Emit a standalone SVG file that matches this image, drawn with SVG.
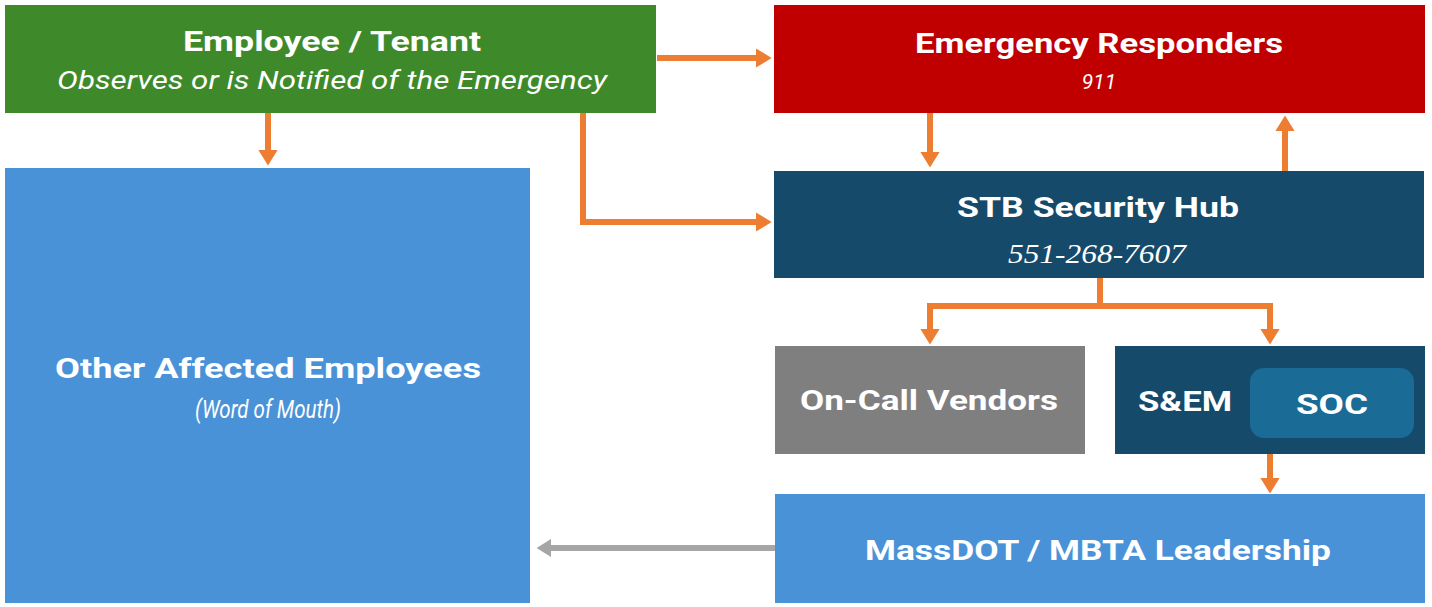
<svg xmlns="http://www.w3.org/2000/svg" width="1432" height="607" viewBox="0 0 1432 607">
<defs>
<marker id="ah" markerWidth="4" markerHeight="4" refX="1" refY="2" orient="auto" markerUnits="strokeWidth"><path d="M0,0.4 L2.6,2 L0,3.6 Z" fill="#ed7d31"/></marker>
<marker id="ahg" markerWidth="4" markerHeight="4" refX="1" refY="2" orient="auto" markerUnits="strokeWidth"><path d="M0,0.5 L2.4,2 L0,3.5 Z" fill="#a6a6a6"/></marker>
</defs>
<style>
.t{font-family:Roboto,"Liberation Sans",sans-serif;fill:#fff;text-anchor:middle}
.b{font-weight:bold;font-size:28px}
.i{font-style:italic;font-size:25px}
.c{fill:none;stroke:#ed7d31;stroke-width:6}
</style>
<rect width="1432" height="607" fill="#fff"/>
<g id="connectors">
<path class="c" d="M657,58 H762" marker-end="url(#ah)"/>
<path class="c" d="M268,113 V156" marker-end="url(#ah)"/>
<path class="c" d="M583,113 V222 H762" marker-end="url(#ah)"/>
<path class="c" d="M930,113 V158" marker-end="url(#ah)"/>
<path class="c" d="M1285,171 V125" marker-end="url(#ah)"/>
<path class="c" d="M1100,278 V306"/>
<path class="c" d="M1100,306 H930 V335" marker-end="url(#ah)"/>
<path class="c" d="M1100,306 H1270 V335" marker-end="url(#ah)"/>
<path class="c" d="M1270,454 V484" marker-end="url(#ah)"/>
<path d="M775,548 H545" fill="none" stroke="#a6a6a6" stroke-width="6" marker-end="url(#ahg)"/>
</g>
<g id="employee">
<rect x="5" y="5" width="651" height="108" fill="#3e8a2b"/>
<text class="t b" x="332" y="51" textLength="298" lengthAdjust="spacingAndGlyphs">Employee / Tenant</text>
<text class="t i" x="332" y="89" textLength="550" lengthAdjust="spacingAndGlyphs" fill="#e6f2dc">Observes or is Notified of the Emergency</text>
</g>
<g id="responders">
<rect x="774" y="5" width="651" height="108" fill="#c00000"/>
<text class="t b" x="1099" y="53" textLength="368" lengthAdjust="spacingAndGlyphs">Emergency Responders</text>
<text class="t i" x="1099" y="89" style="font-size:21px">911</text>
</g>
<g id="hub">
<rect x="774" y="171" width="650" height="107" fill="#154a6b"/>
<text class="t b" x="1098" y="217" textLength="282" lengthAdjust="spacingAndGlyphs">STB Security Hub</text>
<text x="1097" y="263" style="font-family:'Liberation Serif',serif;font-style:italic;font-size:28px;fill:#fff;text-anchor:middle" textLength="178" lengthAdjust="spacingAndGlyphs">551-268-7607</text>
</g>
<g id="others">
<rect x="5" y="168" width="525" height="435" fill="#4a92d8"/>
<text class="t b" x="268" y="378" textLength="426" lengthAdjust="spacingAndGlyphs">Other Affected Employees</text>
<text class="t i" x="268" y="418" textLength="146" lengthAdjust="spacingAndGlyphs" fill="#e2eefa">(Word of Mouth)</text>
</g>
<g id="vendors">
<rect x="775" y="346" width="310" height="108" fill="#7f7f7f"/>
<text class="t b" x="929" y="410" textLength="258" lengthAdjust="spacingAndGlyphs" fill="#f2f2f2">On-Call Vendors</text>
</g>
<g id="sem">
<rect x="1115" y="346" width="310" height="108" fill="#154a6b"/>
<rect x="1250" y="368" width="164" height="70" rx="14" fill="#1a6b96"/>
<text class="t b" x="1185" y="411" textLength="94" lengthAdjust="spacingAndGlyphs">S&amp;EM</text>
<text class="t b" x="1332" y="414" textLength="72" lengthAdjust="spacingAndGlyphs">SOC</text>
</g>
<g id="leadership">
<rect x="775" y="494" width="650" height="109" fill="#4a92d8"/>
<text class="t b" x="1098" y="560" textLength="466" lengthAdjust="spacingAndGlyphs">MassDOT / MBTA Leadership</text>
</g>
</svg>
